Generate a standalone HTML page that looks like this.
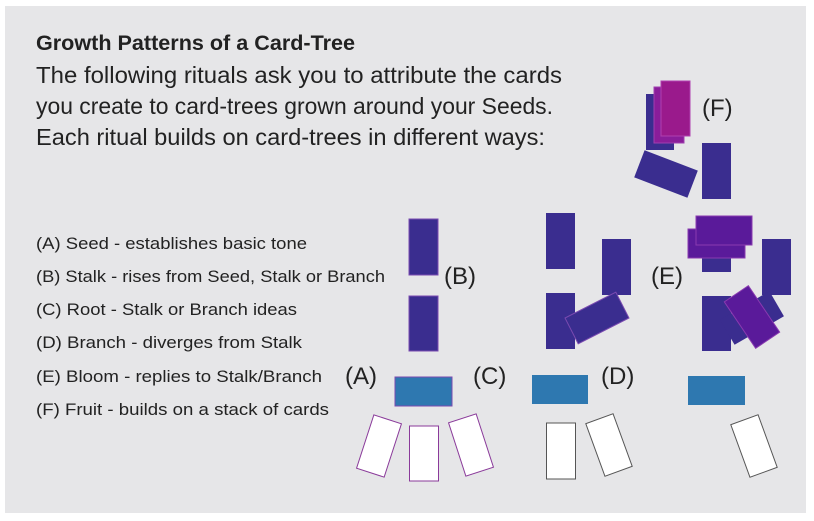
<!DOCTYPE html>
<html><head><meta charset="utf-8"><style>
html,body{margin:0;padding:0;background:#fff;}
svg{display:block;}
text{font-family:"Liberation Sans",sans-serif;fill:#222;}
</style></head><body>
<svg width="814" height="521" viewBox="0 0 814 521" xmlns="http://www.w3.org/2000/svg">
<rect x="5" y="6" width="801" height="507" fill="#e6e6e8"/>
<text x="36" y="50" font-size="21" font-weight="bold" textLength="319" lengthAdjust="spacingAndGlyphs">Growth Patterns of a Card-Tree</text>
<text x="36" y="83" font-size="23" textLength="526" lengthAdjust="spacingAndGlyphs">The following rituals ask you to attribute the cards</text>
<text x="36" y="114" font-size="23" textLength="517" lengthAdjust="spacingAndGlyphs">you create to card-trees grown around your Seeds.</text>
<text x="36" y="145" font-size="23" textLength="509" lengthAdjust="spacingAndGlyphs">Each ritual builds on card-trees in different ways:</text>
<g font-size="16.5">
<text x="36" y="249" textLength="271" lengthAdjust="spacingAndGlyphs">(A) Seed - establishes basic tone</text>
<text x="36" y="282" textLength="349" lengthAdjust="spacingAndGlyphs">(B) Stalk - rises from Seed, Stalk or Branch</text>
<text x="36" y="315" textLength="261" lengthAdjust="spacingAndGlyphs">(C) Root - Stalk or Branch ideas</text>
<text x="36" y="348" textLength="266" lengthAdjust="spacingAndGlyphs">(D) Branch - diverges from Stalk</text>
<text x="36" y="382" textLength="286" lengthAdjust="spacingAndGlyphs">(E) Bloom - replies to Stalk/Branch</text>
<text x="36" y="415" textLength="293" lengthAdjust="spacingAndGlyphs">(F) Fruit - builds on a stack of cards</text>
</g>
<g font-size="24">
<text x="345" y="384">(A)</text>
<text x="444" y="284">(B)</text>
<text x="473" y="384">(C)</text>
<text x="601" y="384">(D)</text>
<text x="651" y="284">(E)</text>
<text x="702" y="116">(F)</text>
</g>
<!-- Column A/B -->
<g fill="#3a2d8f" stroke="#7a4ab0" stroke-width="1">
<rect x="409" y="219" width="29" height="56"/>
<rect x="409" y="296" width="29" height="55"/>
</g>
<rect x="395" y="377" width="57" height="29" fill="#2e78b0" stroke="#7a4ab0"/>
<g fill="#fff" stroke="#8a3a9a" stroke-width="1">
<rect x="364.5" y="418" width="29" height="56" transform="rotate(18 379 446)"/>
<rect x="409.5" y="426" width="29" height="55"/>
<rect x="456.5" y="417" width="29" height="56" transform="rotate(-18 471 445)"/>
</g>
<!-- Column C/D -->
<g fill="#3a2d8f">
<rect x="546" y="213" width="29" height="56"/>
<rect x="546" y="293" width="29" height="56"/>
<rect x="602" y="239" width="29" height="56"/>
<rect x="568.5" y="303.5" width="57" height="29" transform="rotate(-27 597 318)" stroke="#7a4ab0"/>
</g>
<rect x="532" y="375" width="56" height="29" fill="#2e78b0"/>
<g fill="#fff" stroke="#555" stroke-width="1">
<rect x="546.5" y="423" width="29" height="56"/>
<rect x="594.5" y="417" width="29" height="56" transform="rotate(-20 609 445)"/>
</g>
<!-- Column E -->
<g fill="#3a2d8f">
<rect x="702" y="216" width="29" height="56"/>
<rect x="762" y="239" width="29" height="56"/>
<rect x="702" y="296" width="29" height="55"/>
<rect x="723.5" y="303.5" width="57" height="29" transform="rotate(-30 752 318)"/>
</g>
<g fill="#5a1a9a" stroke="#8a3ab0" stroke-width="1">
<rect x="688" y="229" width="57" height="29"/>
<rect x="696" y="216" width="56" height="29"/>
<rect x="737.5" y="289" width="29" height="56" transform="rotate(-34 752 317)"/>
</g>
<rect x="688" y="376" width="57" height="29" fill="#2e78b0"/>
<rect x="739.5" y="418" width="29" height="56" transform="rotate(-20 754 446)" fill="#fff" stroke="#555"/>
<!-- Column F -->
<rect x="646" y="94" width="28" height="56" fill="#3a2d8f"/>
<rect x="654" y="87" width="30" height="56" fill="#8a1d9a" stroke="#a040b0"/>
<rect x="661" y="81" width="29" height="55" fill="#9a1a8c" stroke="#b040b0"/>
<rect x="637.5" y="159.5" width="57" height="29" transform="rotate(21 666 174)" fill="#3a2d8f"/>
<rect x="702" y="143" width="29" height="56" fill="#3a2d8f"/>
</svg>
</body></html>
